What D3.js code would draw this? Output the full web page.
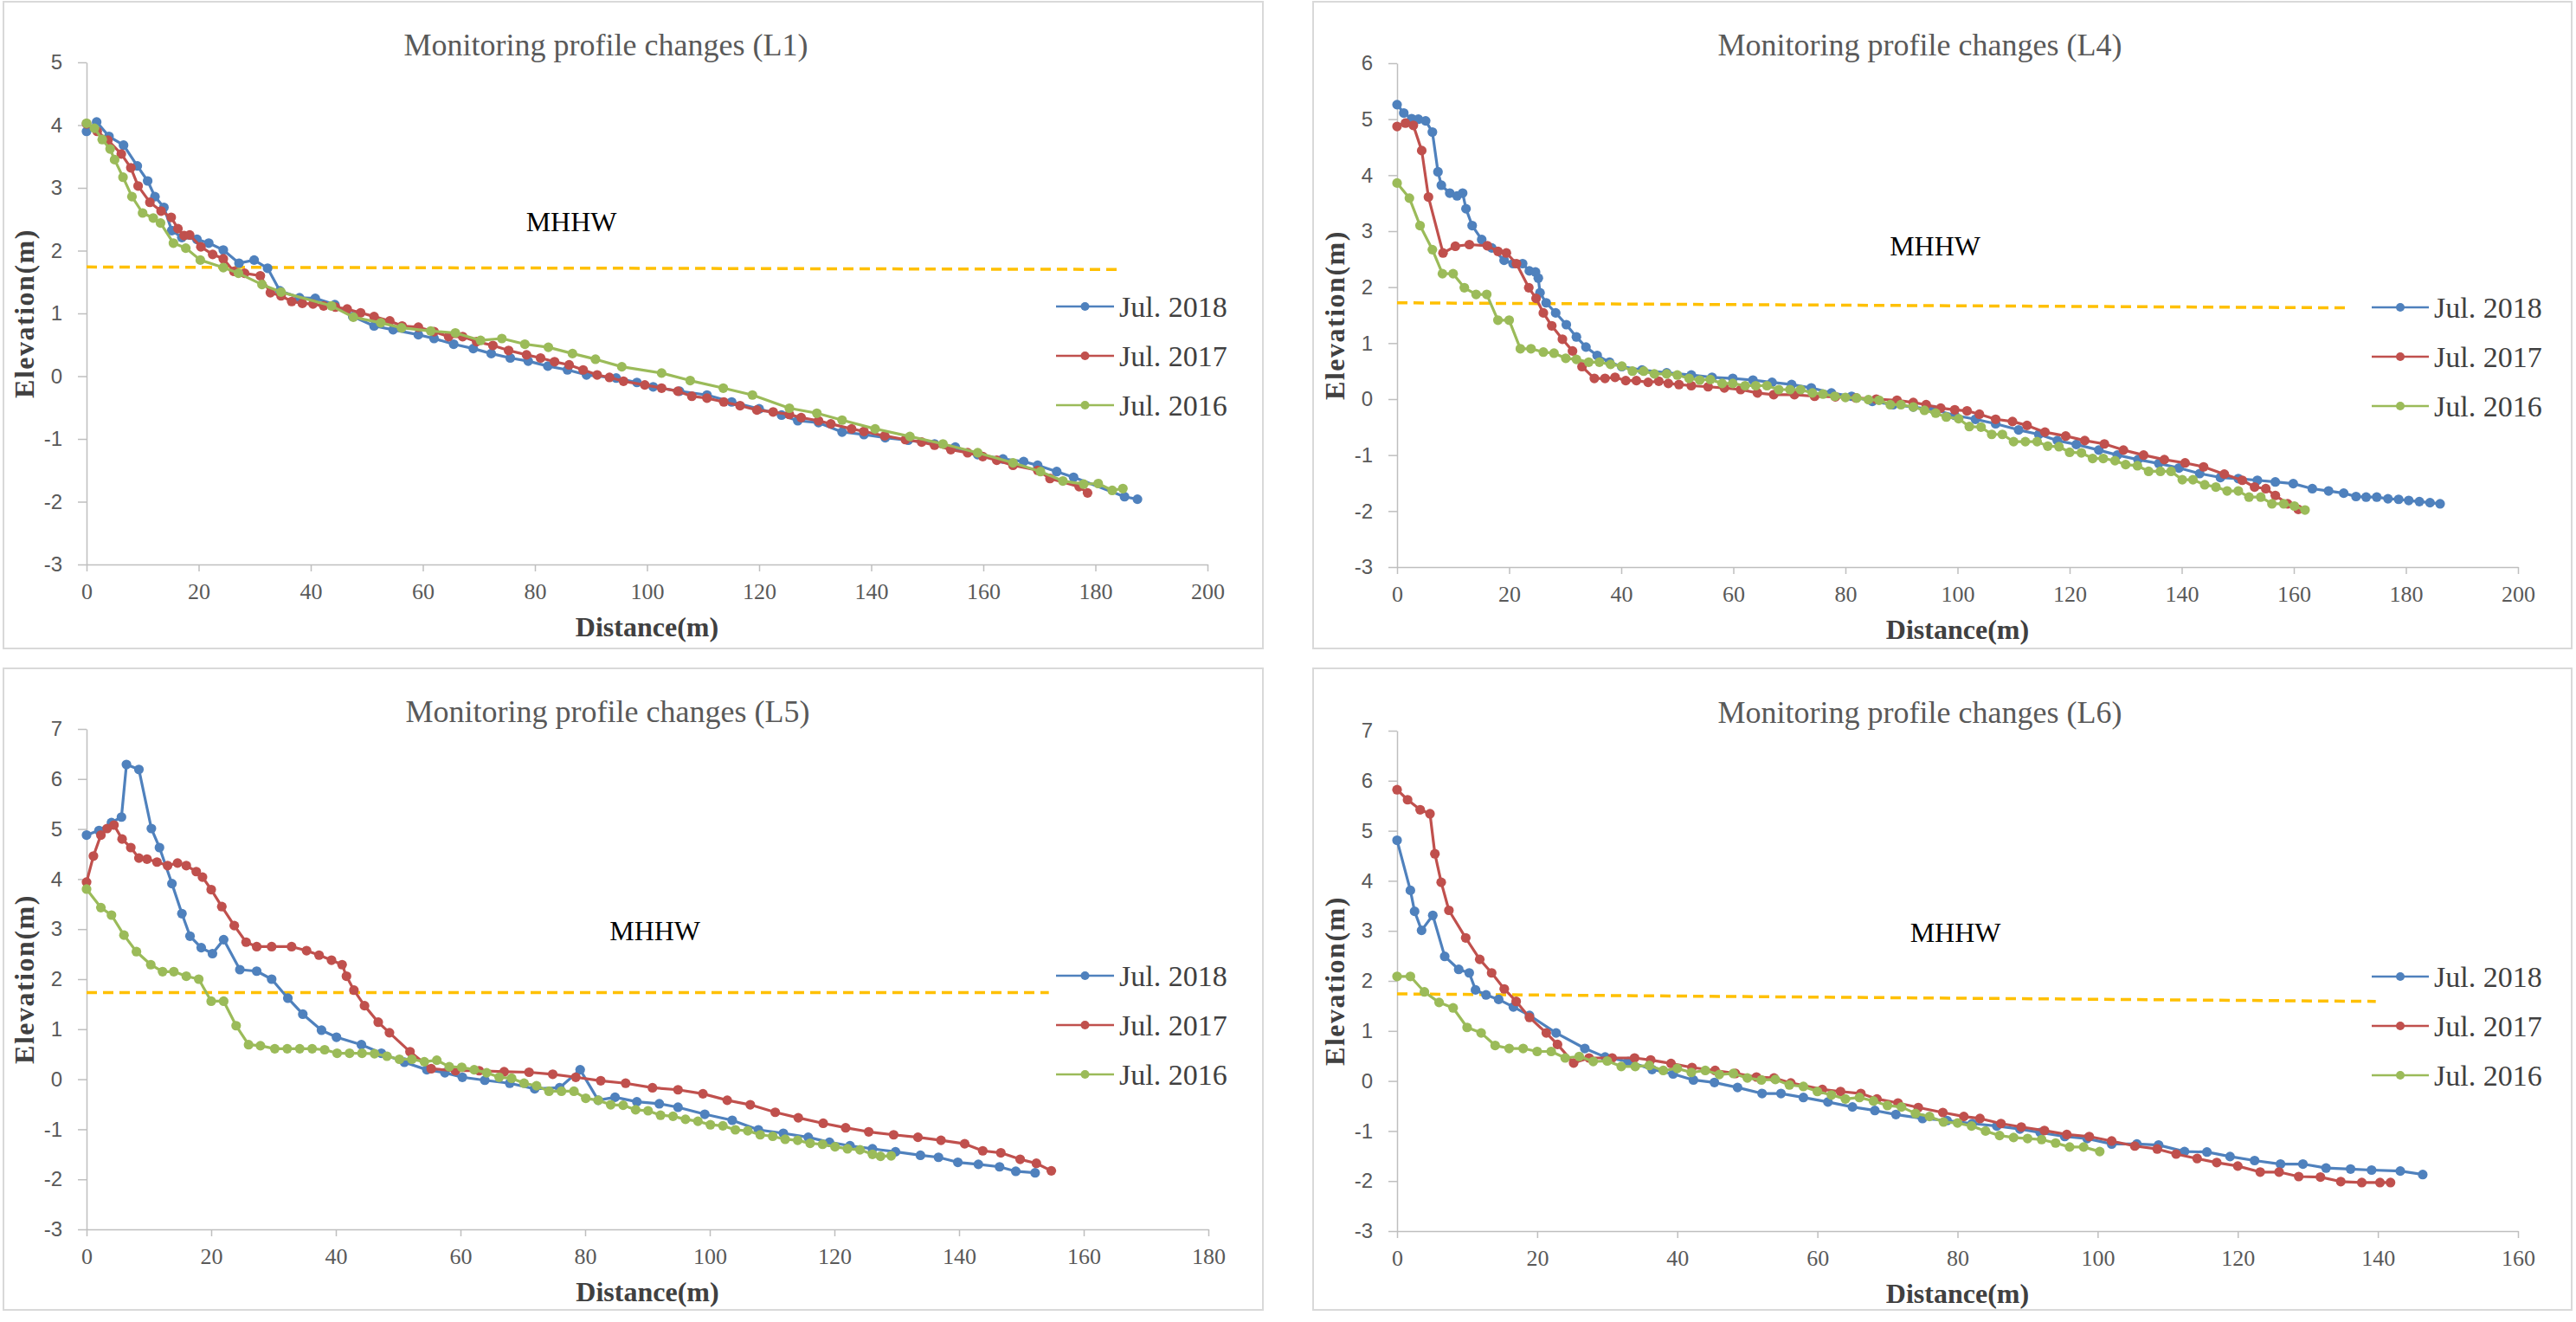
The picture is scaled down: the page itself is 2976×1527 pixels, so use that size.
<!DOCTYPE html>
<html><head><meta charset="utf-8">
<script src="https://cdn.jsdelivr.net/npm/d3@7"></script>
<style>
html,body{margin:0;padding:0;background:#fff;}
svg{display:block;}
</style></head>
<body>
<svg id="chart" width="2976" height="1527"></svg>
<script>
// ---------------- DATA ----------------
const seriesNames = ["Jul. 2018", "Jul. 2017", "Jul. 2016"];
const panelTitles = ["Monitoring profile changes (L1)", "Monitoring profile changes (L4)", "Monitoring profile changes (L5)", "Monitoring profile changes (L6)"];
const mhhwLabel = "MHHW";
const xAxisTitle = "Distance(m)";
const yAxisTitle = "Elevation(m)";

const L1_xTicks = [0,20,40,60,80,100,120,140,160,180,200];
const L1_yTicks = [-3,-2,-1,0,1,2,3,4,5];
const L4_xTicks = [0,20,40,60,80,100,120,140,160,180,200];
const L4_yTicks = [-3,-2,-1,0,1,2,3,4,5,6];
const L5_xTicks = [0,20,40,60,80,100,120,140,160,180];
const L5_yTicks = [-3,-2,-1,0,1,2,3,4,5,6,7];
const L6_xTicks = [0,20,40,60,80,100,120,140,160];
const L6_yTicks = [-3,-2,-1,0,1,2,3,4,5,6,7];

// L1 profiles [distance, elevation]
const L1_2018 = [[0,3.90],[1.8,4.05],[4,3.82],[6.6,3.68],[9.05,3.35],[10.9,3.11],[12.2,2.86],[13.8,2.69],[15.2,2.32],[17,2.21],[19.7,2.18],[21.8,2.12],[24.4,2.01],[27.2,1.80],[29.9,1.85],[32.3,1.72],[34.5,1.36],[38,1.25],[40.8,1.24],[44.3,1.14],[47.5,0.95],[51.3,0.80],[54.7,0.74],[59.2,0.66],[62,0.60],[65.5,0.51],[69,0.44],[72.2,0.36],[75.6,0.29],[78.8,0.24],[82.3,0.16],[85.8,0.10],[89.2,0.02],[94.5,-0.03],[98.2,-0.10],[101.1,-0.17],[105.8,-0.24],[110.7,-0.30],[115.1,-0.41],[120,-0.52],[124,-0.62],[126.9,-0.71],[130.6,-0.74],[134.8,-0.89],[138.7,-0.93],[142.5,-0.98],[146.6,-1.02],[151.3,-1.08],[155,-1.13],[159,-1.25],[163.5,-1.32],[167.2,-1.36],[169.7,-1.42],[173.1,-1.52],[176.1,-1.61],[185.2,-1.92],[187.5,-1.96]];
const L1_2017 = [[0,4.02],[1.9,3.90],[3.8,3.76],[6.2,3.54],[7.9,3.32],[9.2,3.03],[11.3,2.77],[13.3,2.63],[15.1,2.53],[16.3,2.35],[17.4,2.24],[18.4,2.25],[20.4,2.06],[22.5,1.94],[24.4,1.87],[26.3,1.67],[28.2,1.64],[31,1.60],[32.8,1.33],[34.7,1.28],[36.6,1.19],[38.5,1.16],[40.4,1.15],[42.3,1.12],[44.4,1.10],[46.5,1.07],[48.9,1.01],[51.3,0.95],[54.1,0.88],[56.3,0.80],[59.2,0.78],[62,0.71],[64.6,0.63],[67.1,0.63],[69.6,0.55],[72.5,0.49],[75.3,0.41],[78.5,0.34],[81,0.29],[83.5,0.23],[86.1,0.18],[88.6,0.10],[91.1,0.02],[93.3,-0.02],[95.8,-0.08],[99.6,-0.14],[102.6,-0.19],[105.5,-0.24],[108,-0.32],[110.7,-0.35],[113.7,-0.41],[116.6,-0.47],[119.6,-0.54],[122.5,-0.57],[125.4,-0.61],[127.5,-0.66],[130.6,-0.71],[132.8,-0.76],[136.5,-0.84],[138.7,-0.88],[142.4,-0.95],[146.1,-1.01],[149,-1.05],[151.3,-1.10],[154.2,-1.17],[157.2,-1.22],[159.9,-1.28],[162.4,-1.34],[165.3,-1.42],[169.7,-1.50],[171.9,-1.63],[177.1,-1.76],[178.6,-1.86]];
const L1_2016 = [[0,4.03],[1.4,3.95],[2.8,3.77],[4.2,3.62],[5,3.45],[6.5,3.17],[8.1,2.86],[10,2.60],[11.9,2.52],[13.2,2.44],[15.5,2.12],[17.7,2.04],[20.3,1.85],[24.4,1.73],[27.1,1.64],[31.3,1.46],[34.7,1.34],[43.7,1.12],[47.6,0.94],[52.5,0.85],[56.2,0.77],[61.4,0.72],[65.8,0.69],[70.3,0.57],[74.1,0.60],[78.2,0.51],[82.4,0.46],[86.7,0.36],[90.8,0.27],[95.5,0.15],[102.6,0.05],[107.7,-0.07],[113.6,-0.19],[118.8,-0.30],[125.4,-0.51],[130.3,-0.59],[134.8,-0.70],[140.7,-0.84],[146.9,-0.96],[152.8,-1.08],[159,-1.22],[165.3,-1.38],[170.2,-1.52],[174.2,-1.67],[177.9,-1.72],[180.5,-1.71],[183,-1.82],[184.9,-1.79]];
const L1_mhhw = [[0,1.74],[184.5,1.70]];

// L4 profiles
const L4_2018 = [[0,5.26],[1.2,5.11],[2.6,5.01],[3.8,5.0],[5.1,4.97],[6.3,4.77],[7.3,4.06],[7.9,3.82],[9.4,3.68],[10.7,3.63],[11.7,3.68],[12.3,3.40],[13.4,3.10],[15.1,2.85],[16.9,2.70],[19.1,2.48],[20.7,2.42],[22.4,2.42],[23.6,2.29],[24.7,2.27],[25.2,2.16],[25.5,1.90],[26.6,1.72],[28.3,1.54],[30.2,1.33],[32,1.11],[33.7,0.93],[35.7,0.78],[37.9,0.66],[40.1,0.58],[43.7,0.52],[48.1,0.47],[52.5,0.43],[56.2,0.39],[59.9,0.37],[63.5,0.34],[66.9,0.30],[70.4,0.26],[73.9,0.20],[77.5,0.11],[81.1,0.05],[84.8,-0.04],[88.5,-0.10],[92.1,-0.14],[95.8,-0.19],[99.5,-0.29],[103.2,-0.36],[106.8,-0.44],[110.9,-0.55],[114.5,-0.63],[117.8,-0.74],[121.2,-0.81],[125.2,-0.91],[128.5,-1.00],[132.2,-1.08],[135.9,-1.15],[139.5,-1.23],[143.2,-1.33],[146.9,-1.40],[150.1,-1.42],[153.5,-1.45],[156.7,-1.48],[159.9,-1.51],[163.3,-1.60],[166.2,-1.64],[168.9,-1.68],[171.1,-1.74],[172.9,-1.75],[174.8,-1.75],[176.8,-1.78],[178.7,-1.79],[180.5,-1.81],[182.4,-1.83],[184.3,-1.85],[186.1,-1.87]];
const L4_2017 = [[0,4.87],[1.5,4.93],[2.9,4.89],[4.4,4.44],[5.6,3.61],[8.2,2.61],[10.4,2.73],[12.9,2.76],[16.1,2.74],[18,2.64],[19.5,2.61],[21.3,2.42],[23.5,1.99],[24.8,1.80],[26.1,1.54],[27.6,1.31],[29.5,1.07],[31.3,0.86],[33,0.58],[35.2,0.37],[37.1,0.37],[38.9,0.39],[40.8,0.33],[42.7,0.33],[44.8,0.30],[46.7,0.32],[48.4,0.28],[50.3,0.26],[52.5,0.24],[55.5,0.22],[58.4,0.20],[61.3,0.17],[64.3,0.11],[67.2,0.08],[70.9,0.08],[74.5,0.05],[78.2,0.04],[81.9,0.02],[85.5,0.0],[89.2,-0.02],[92.1,-0.06],[94.4,-0.10],[97,-0.16],[99.5,-0.19],[101.7,-0.21],[103.9,-0.27],[106.8,-0.36],[109.8,-0.40],[112.4,-0.47],[115.6,-0.59],[119.3,-0.66],[122.7,-0.74],[126.2,-0.80],[129.6,-0.91],[133.2,-1.00],[136.9,-1.08],[140.6,-1.14],[143.9,-1.21],[147.6,-1.34],[150.8,-1.45],[153,-1.57],[155,-1.60],[156.7,-1.72],[158.9,-1.87],[160.8,-1.97]];
const L4_2016 = [[0,3.86],[2.2,3.59],[4.1,3.10],[6.3,2.67],[8.1,2.24],[10,2.24],[12,1.99],[14.1,1.87],[16,1.87],[18,1.41],[20,1.41],[22,0.90],[23.9,0.90],[26.1,0.84],[28,0.82],[30.1,0.73],[32,0.71],[34.2,0.66],[36.1,0.66],[38.1,0.62],[40.1,0.59],[42,0.50],[44,0.50],[45.9,0.45],[48.1,0.45],[50,0.43],[52.1,0.37],[54,0.34],[55.9,0.35],[58,0.28],[59.9,0.28],[62.1,0.24],[64,0.24],[66,0.24],[68.1,0.17],[70.1,0.17],[72,0.17],[74.1,0.11],[76,0.09],[78.1,0.05],[80,0.03],[82,0.02],[84.1,-0.01],[86,-0.02],[88,-0.10],[89.9,-0.10],[92.1,-0.14],[94.1,-0.20],[96.1,-0.25],[98,-0.32],[100.2,-0.35],[102.1,-0.49],[104.2,-0.50],[106.1,-0.63],[108,-0.63],[110,-0.76],[112.1,-0.76],[114.2,-0.76],[116.1,-0.84],[118.1,-0.85],[120,-0.95],[122.1,-0.96],[124.1,-1.06],[126,-1.06],[128.1,-1.10],[130,-1.17],[132.1,-1.19],[134.1,-1.29],[136.2,-1.29],[138.1,-1.29],[140.1,-1.44],[142,-1.44],[144.1,-1.53],[146.1,-1.57],[148.1,-1.64],[150.1,-1.64],[152,-1.75],[154.1,-1.75],[156.1,-1.87],[158.2,-1.87],[160.1,-1.91],[162,-1.98]];
const L4_mhhw = [[0,1.72],[170,1.63]];

// L5 profiles
const L5_2018 = [[0,4.88],[2,4.97],[4,5.13],[5.6,5.24],[6.4,6.29],[8.4,6.19],[10.4,5.01],[11.7,4.63],[13.7,3.91],[15.3,3.31],[16.6,2.86],[18.4,2.63],[20.2,2.51],[22,2.79],[24.6,2.19],[27.3,2.16],[29.7,2.00],[32.3,1.62],[34.7,1.30],[37.7,0.98],[40.1,0.84],[44.1,0.69],[47.3,0.52],[51,0.34],[54.6,0.19],[57.5,0.13],[60.3,0.04],[63.9,-0.02],[67.9,-0.08],[71.9,-0.19],[75.9,-0.17],[79.2,0.19],[82.1,-0.42],[84.8,-0.36],[88.3,-0.45],[91.9,-0.49],[94.9,-0.56],[99.2,-0.70],[103.6,-0.82],[107.8,-1.01],[111.8,-1.08],[115.8,-1.16],[119.2,-1.26],[122.5,-1.33],[126.1,-1.39],[129.8,-1.45],[133.8,-1.52],[136.7,-1.56],[139.8,-1.66],[143.1,-1.70],[146.5,-1.75],[149.1,-1.84],[152.2,-1.87]];
const L5_2017 = [[0,3.94],[1.1,4.46],[2.3,4.88],[3.3,5.01],[4.4,5.08],[5.7,4.80],[7.1,4.63],[8.4,4.42],[9.7,4.40],[11.3,4.34],[13,4.27],[14.6,4.32],[16,4.27],[17.6,4.15],[18.6,4.04],[20,3.79],[21.7,3.45],[23.7,3.07],[25.6,2.74],[27.3,2.65],[29.7,2.65],[32.9,2.65],[35.3,2.57],[37.3,2.48],[39.3,2.38],[41,2.29],[41.7,2.06],[42.9,1.78],[44.6,1.47],[46.8,1.14],[48.6,0.93],[51.9,0.55],[55.3,0.21],[59.2,0.17],[63,0.17],[67,0.15],[71,0.14],[74.8,0.10],[78.5,0.04],[82.5,-0.03],[86.5,-0.08],[90.8,-0.17],[94.9,-0.21],[98.9,-0.29],[102.8,-0.42],[106.5,-0.51],[110.5,-0.66],[114.2,-0.77],[118.2,-0.88],[121.8,-0.97],[125.5,-1.05],[129.5,-1.11],[133.4,-1.16],[137.1,-1.22],[140.9,-1.29],[143.8,-1.43],[146.7,-1.47],[149.8,-1.60],[152.4,-1.68],[154.8,-1.83]];
const L5_2016 = [[0,3.80],[2.3,3.43],[4,3.28],[6,2.88],[8,2.55],[10.3,2.29],[12.2,2.15],[14,2.15],[16,2.06],[18,2.00],[20,1.56],[22,1.56],[24,1.07],[26,0.69],[27.9,0.67],[30.2,0.61],[32.2,0.61],[34.2,0.61],[36.2,0.61],[38.2,0.59],[40.2,0.52],[42.2,0.52],[44.2,0.52],[46.2,0.51],[48.2,0.46],[50.2,0.40],[52.2,0.40],[54.2,0.35],[56.2,0.38],[58.2,0.25],[60.2,0.24],[62.2,0.19],[64.2,0.13],[66.2,0.04],[68.2,0.02],[70.2,-0.08],[72.2,-0.13],[74.2,-0.24],[76.2,-0.24],[78.2,-0.24],[80.1,-0.38],[82.1,-0.42],[84.1,-0.51],[86.1,-0.52],[88.1,-0.61],[90.1,-0.63],[92.1,-0.72],[94.1,-0.74],[96.1,-0.80],[98.1,-0.84],[100.1,-0.91],[102.1,-0.93],[104.1,-1.01],[106.1,-1.03],[108.1,-1.11],[110.1,-1.14],[112.1,-1.20],[114.1,-1.22],[116.1,-1.28],[118.1,-1.30],[120.1,-1.35],[122.1,-1.39],[124.1,-1.41],[126.1,-1.50],[127.4,-1.54],[129.1,-1.53]];
const L5_mhhw = [[0,1.73],[154.4,1.73]];

// L6 profiles
const L6_2018 = [[0,4.81],[1.9,3.81],[2.5,3.39],[3.5,3.01],[5.1,3.31],[6.8,2.49],[8.8,2.23],[10.3,2.16],[11.2,1.82],[12.7,1.72],[14.5,1.63],[16.6,1.48],[18.9,1.31],[22.7,0.96],[26.8,0.65],[29.7,0.48],[33,0.39],[36.4,0.23],[39.4,0.14],[42.3,0.02],[45.3,-0.03],[48.6,-0.13],[52.1,-0.25],[54.8,-0.25],[58,-0.33],[61.5,-0.42],[65,-0.52],[68.2,-0.59],[71.2,-0.67],[75,-0.75],[78.5,-0.79],[82.1,-0.85],[85.6,-0.90],[88.9,-0.96],[91.8,-1.03],[95.3,-1.11],[98.5,-1.15],[102,-1.26],[105.6,-1.26],[108.7,-1.28],[112.4,-1.41],[115.6,-1.42],[118.9,-1.51],[122.4,-1.59],[126.1,-1.66],[129.3,-1.66],[132.6,-1.74],[136.1,-1.76],[139.1,-1.78],[143.2,-1.80],[146.4,-1.87]];
const L6_2017 = [[0,5.82],[1.5,5.62],[3.3,5.42],[4.7,5.34],[5.4,4.54],[6.3,3.97],[7.4,3.41],[9.8,2.86],[11.8,2.43],[13.5,2.16],[15.3,1.84],[17,1.59],[18.9,1.27],[21.3,0.96],[22.9,0.73],[25.2,0.36],[27.4,0.46],[30.7,0.46],[33.9,0.46],[36.2,0.42],[39.1,0.35],[42.1,0.27],[45.4,0.21],[48.3,0.15],[51.3,0.08],[53.8,0.06],[56.2,-0.04],[60.7,-0.17],[63.3,-0.21],[66.2,-0.25],[68.5,-0.36],[71.5,-0.44],[74.4,-0.53],[77.9,-0.63],[80.9,-0.71],[83.2,-0.75],[86.2,-0.85],[89.1,-0.92],[92.4,-0.99],[95.6,-1.07],[98.8,-1.11],[102,-1.20],[105.3,-1.30],[108.5,-1.36],[111.2,-1.46],[114.2,-1.55],[117,-1.63],[120,-1.70],[123.2,-1.82],[125.9,-1.82],[128.7,-1.91],[131.8,-1.92],[134.7,-2.01],[137.7,-2.03],[140.3,-2.03],[141.8,-2.03]];
const L6_2016 = [[0,2.09],[1.9,2.09],[3.9,1.78],[6,1.57],[8,1.46],[10,1.07],[12,0.96],[14,0.71],[16,0.65],[18,0.65],[20,0.59],[22,0.59],[24,0.46],[26,0.49],[28,0.39],[30,0.40],[32,0.29],[34,0.29],[36,0.31],[38,0.21],[40,0.25],[42,0.17],[44,0.21],[46,0.13],[48,0.15],[50,0.06],[52,0.02],[54,0.03],[56,-0.08],[58,-0.11],[60,-0.21],[62,-0.28],[64,-0.36],[66,-0.33],[68,-0.40],[70,-0.49],[72,-0.52],[74,-0.65],[76,-0.71],[78,-0.82],[80,-0.84],[82,-0.90],[84,-1.00],[86,-1.09],[88,-1.13],[90,-1.15],[92,-1.17],[94,-1.24],[96,-1.32],[98,-1.32],[100.3,-1.41]];
const L6_mhhw = [[0,1.74],[139.7,1.59]];

// MHHW label anchor points [distance, elevation]
const L1_mhhwText = [86.5, 2.46];
const L4_mhhwText = [96, 2.74];
const L5_mhhwText = [91.2, 2.97];
const L6_mhhwText = [79.7, 2.97];

// ---------------- LAYOUT / STYLE ----------------
const colors = ["#4F81BD", "#C0504D", "#9BBB59"];
const panels = [
  {title: panelTitles[0], series: [L1_2018, L1_2017, L1_2016], mhhw: L1_mhhw, mhhwText: L1_mhhwText,
   xTicks: L1_xTicks, yTicks: L1_yTicks,
   box: [4, 2, 1455, 747], plot: [100, 72, 1395, 652], titlePos: [700, 64], legend: [1220, 1293, 354]},
  {title: panelTitles[1], series: [L4_2018, L4_2017, L4_2016], mhhw: L4_mhhw, mhhwText: L4_mhhwText,
   xTicks: L4_xTicks, yTicks: L4_yTicks,
   box: [1517, 2, 1454, 747], plot: [1614, 73, 2909, 655], titlePos: [2218, 64], legend: [2740, 2812, 355]},
  {title: panelTitles[2], series: [L5_2018, L5_2017, L5_2016], mhhw: L5_mhhw, mhhwText: L5_mhhwText,
   xTicks: L5_xTicks, yTicks: L5_yTicks,
   box: [4, 772, 1455, 741], plot: [100, 842, 1396, 1420], titlePos: [702, 834], legend: [1220, 1293, 1127]},
  {title: panelTitles[3], series: [L6_2018, L6_2017, L6_2016], mhhw: L6_mhhw, mhhwText: L6_mhhwText,
   xTicks: L6_xTicks, yTicks: L6_yTicks,
   box: [1517, 772, 1454, 741], plot: [1614, 844, 2909, 1422], titlePos: [2218, 835], legend: [2740, 2812, 1128]}
];

const svg = d3.select("#chart");
svg.append("rect").attr("width", 2976).attr("height", 1527).attr("fill", "#fff");

panels.forEach(p => {
  const g = svg.append("g");
  g.append("rect")
    .attr("x", p.box[0]).attr("y", p.box[1]).attr("width", p.box[2]).attr("height", p.box[3])
    .attr("fill", "#fff").attr("stroke", "#D9D9D9").attr("stroke-width", 2);

  const [x0, y0, x1, y1] = p.plot;
  const x = d3.scaleLinear().domain([p.xTicks[0], p.xTicks[p.xTicks.length - 1]]).range([x0, x1]);
  const y = d3.scaleLinear().domain([p.yTicks[0], p.yTicks[p.yTicks.length - 1]]).range([y1, y0]);

  // axes
  const xa = g.append("g").attr("transform", `translate(0,${y1})`)
    .call(d3.axisBottom(x).tickValues(p.xTicks).tickSize(8).tickSizeOuter(0).tickPadding(14).tickFormat(d3.format("d")));
  xa.select(".domain").attr("stroke", "#BFBFBF").attr("stroke-width", 1.5);
  xa.selectAll(".tick line").attr("stroke", "#BFBFBF").attr("stroke-width", 1.5);
  xa.selectAll(".tick text").attr("fill", "#595959").attr("font-family", "'Liberation Serif','Times New Roman',serif").attr("font-size", 26);

  const ya = g.append("g").attr("transform", `translate(${x0},0)`)
    .call(d3.axisLeft(y).tickValues(p.yTicks).tickSize(10).tickSizeOuter(0).tickPadding(18).tickFormat(d3.format("d")));
  ya.select(".domain").attr("stroke", "#BFBFBF").attr("stroke-width", 1.5);
  ya.selectAll(".tick line").attr("stroke", "#BFBFBF").attr("stroke-width", 1.5);
  ya.selectAll(".tick text").attr("fill", "#595959").attr("font-family", "'Liberation Sans',Arial,sans-serif").attr("font-size", 24);
  ya.selectAll(".tick text").text(d => d < 0 ? "-" + Math.abs(d) : d);

  // MHHW dashed line
  g.append("path").datum(p.mhhw)
    .attr("d", d3.line().x(d => x(d[0])).y(d => y(d[1])))
    .attr("fill", "none").attr("stroke", "#FFC000").attr("stroke-width", 3.5).attr("stroke-dasharray", "12,7");

  p.series.forEach((s, i) => {
    g.append("path").datum(s)
      .attr("d", d3.line().x(d => x(d[0])).y(d => y(d[1])))
      .attr("fill", "none").attr("stroke", colors[i]).attr("stroke-width", 3.2).attr("stroke-linejoin", "round");
    g.append("g").selectAll("circle").data(s).join("circle")
      .attr("cx", d => x(d[0])).attr("cy", d => y(d[1])).attr("r", 5.6).attr("fill", colors[i]);
  });

  // MHHW label
  g.append("text").attr("x", x(p.mhhwText[0])).attr("y", y(p.mhhwText[1]))
    .attr("text-anchor", "middle").attr("dominant-baseline", "central")
    .attr("font-family", "'Liberation Serif','Times New Roman',serif").attr("font-size", 32).attr("fill", "#000")
    .text(mhhwLabel);

  // title (y is baseline)
  g.append("text").attr("x", p.titlePos[0]).attr("y", p.titlePos[1])
    .attr("text-anchor", "middle")
    .attr("font-family", "'Liberation Serif','Times New Roman',serif").attr("font-size", 36).attr("fill", "#595959")
    .text(p.title);

  // axis titles
  g.append("text").attr("x", (x0 + x1) / 2).attr("y", y1 + 72)
    .attr("text-anchor", "middle").attr("dominant-baseline", "central")
    .attr("font-family", "'Liberation Serif','Times New Roman',serif").attr("font-weight", "bold").attr("font-size", 32).attr("fill", "#404040")
    .text(xAxisTitle);
  g.append("text").attr("transform", `translate(${x0 - 72},${(y0 + y1) / 2}) rotate(-90)`)
    .attr("text-anchor", "middle").attr("dominant-baseline", "central")
    .attr("font-family", "'Liberation Serif','Times New Roman',serif").attr("font-weight", "bold").attr("font-size", 32)
    .attr("letter-spacing", 1.5).attr("fill", "#404040")
    .text(yAxisTitle);

  // legend
  seriesNames.forEach((name, i) => {
    const ly = p.legend[2] + i * 57;
    const lx0 = p.legend[0], lx1 = p.legend[1] - 6;
    g.append("line").attr("x1", lx0).attr("x2", lx1).attr("y1", ly).attr("y2", ly)
      .attr("stroke", colors[i]).attr("stroke-width", 2.5);
    g.append("circle").attr("cx", (lx0 + lx1) / 2).attr("cy", ly).attr("r", 5).attr("fill", colors[i]);
    g.append("text").attr("x", p.legend[1]).attr("y", ly).attr("dominant-baseline", "central")
      .attr("font-family", "'Liberation Serif','Times New Roman',serif").attr("font-size", 34).attr("fill", "#404040")
      .text(name);
  });
});
</script>
</body></html>
